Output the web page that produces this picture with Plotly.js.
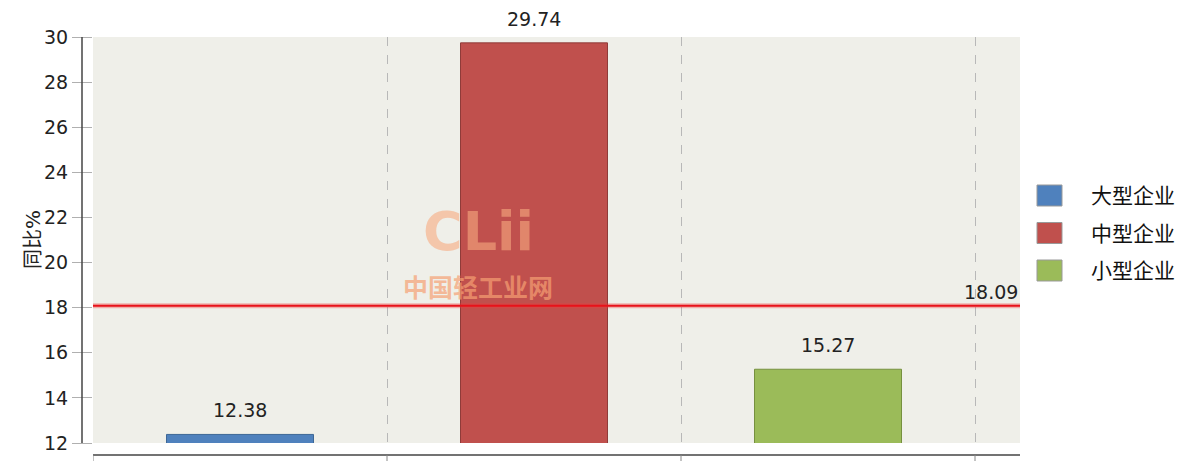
<!DOCTYPE html>
<html>
<head>
<meta charset="utf-8">
<script src="https://cdn.plot.ly/plotly-3.0.1.min.js"></script>
<style>
  html, body { margin: 0; padding: 0; background: #fff; }
  #chart { width: 1191px; height: 461px; }
</style>
</head>
<body>
<div id="chart"></div>
<script>
// data
const categories = ["大型企业", "中型企业", "小型企业"];
const values = [12.38, 29.74, 15.27];
const colors = ["#4f81bd", "#c0504d", "#9bbb59"];
const borders = ["#3d6796", "#8f3b39", "#76903f"];
const avgValue = 18.09;
const yTicks = [12, 14, 16, 18, 20, 22, 24, 26, 28, 30];

const FONT = 'DejaVu Sans, "Noto Sans CJK SC", sans-serif';

// plot area in pixels: x 93..1020, y 37..443
const L = 93, R = 1020, T = 37, B = 443;
const px2x = p => (p - L) / (R - L);
const py2y = p => (B - p) / (B - T);

const xs = categories.map((c, i) => i);

const traces = [{
    type: 'bar',
    x: xs,
    y: values,
    width: 0.5,
    marker: { color: colors, line: { color: borders, width: 1 } },
    hoverinfo: 'skip',
    showlegend: false
}];

const annotations = values.map((v, i) => ({
    x: i, y: v, xref: 'x', yref: 'y',
    text: v.toFixed(2), showarrow: false,
    yanchor: 'bottom', yshift: 11,
    font: { family: FONT, size: 19, color: '#222' }
}));

// average label
annotations.push({
    xref: 'paper', yref: 'y', x: 1, y: avgValue,
    xanchor: 'right', yanchor: 'bottom', yshift: 1, showarrow: false,
    text: avgValue.toFixed(2),
    font: { family: FONT, size: 19, color: '#222' }
});

// y axis title
annotations.push({
    xref: 'paper', yref: 'paper', x: px2x(19), y: py2y(240),
    text: '同比%', textangle: -90, showarrow: false,
    font: { family: FONT, size: 20, color: '#222' }
});

// watermark
annotations.push({
    xref: 'paper', yref: 'paper', x: px2x(478), y: py2y(231),
    text: '<b>CLii</b>', showarrow: false,
    font: { family: 'DejaVu Sans', size: 54, color: 'rgba(246,170,128,0.6)' }
});
annotations.push({
    xref: 'paper', yref: 'paper', x: px2x(478), y: py2y(286),
    text: '<b>中国轻工业网</b>', showarrow: false,
    font: { family: '"Noto Sans CJK SC"', size: 25, color: 'rgba(246,160,115,0.7)' }
});

const shapes = [
    // average line
    { type: 'line', xref: 'paper', yref: 'y', x0: 0, x1: 1, y0: avgValue, y1: avgValue,
      line: { color: 'rgba(240,60,60,0.35)', width: 5 } },
    { type: 'line', xref: 'paper', yref: 'y', x0: 0, x1: 1, y0: avgValue, y1: avgValue,
      line: { color: '#e8121a', width: 2 } },
    // y axis line
    { type: 'line', xref: 'paper', yref: 'paper', x0: px2x(82), x1: px2x(82), y0: 0, y1: 1,
      line: { color: '#444', width: 1.5 } },
    // x axis line
    { type: 'line', xref: 'paper', yref: 'paper', x0: 0, x1: 1, y0: py2y(455), y1: py2y(455),
      line: { color: '#444', width: 1.5 } }
];

// x axis ticks at category boundaries
[-0.5, 0.5, 1.5, 2.5].forEach(t => {
    shapes.push({ type: 'line', xref: 'x', yref: 'paper', x0: t, x1: t,
        y0: py2y(455), y1: py2y(461), line: { color: '#888', width: 1 } });
});

// legend
categories.forEach((c, i) => {
    const top = 185 + i * 37.5;
    shapes.push({ type: 'rect', xref: 'paper', yref: 'paper',
        x0: px2x(1037), x1: px2x(1062), y0: py2y(top), y1: py2y(top + 21),
        fillcolor: colors[i], line: { color: '#999', width: 1 } });
    annotations.push({ xref: 'paper', yref: 'paper', x: px2x(1089), y: py2y(top + 11),
        xanchor: 'left', yanchor: 'middle', text: c, showarrow: false,
        font: { family: FONT, size: 21, color: '#111' } });
});

const layout = {
    width: 1191, height: 461,
    margin: { l: L, r: 1191 - R, t: T, b: 461 - B, pad: 0 },
    paper_bgcolor: '#ffffff',
    plot_bgcolor: '#efefe9',
    showlegend: false,
    xaxis: {
        range: [-0.5, (R - L) / 294 - 0.5],
        tickvals: [0.5, 1.5, 2.5],
        showticklabels: false,
        ticks: '',
        showgrid: true, gridcolor: '#b8b8b8', griddash: 'dash', gridwidth: 1,
        zeroline: false, showline: false, fixedrange: true
    },
    yaxis: {
        range: [12, 30],
        tickvals: yTicks,
        ticks: 'outside', ticklen: 20, tickcolor: '#b0b0b0', tickwidth: 1,
        showgrid: false, zeroline: false, showline: false,
        tickfont: { family: FONT, size: 19, color: '#222' },
        fixedrange: true
    },
    shapes: shapes,
    annotations: annotations
};

Plotly.newPlot('chart', traces, layout, { displayModeBar: false, staticPlot: true });
</script>
</body>
</html>
